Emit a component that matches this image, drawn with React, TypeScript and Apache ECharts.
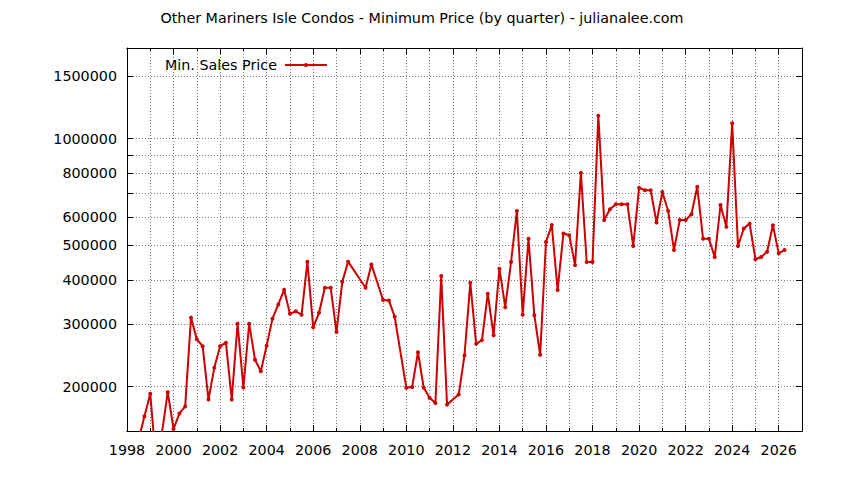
import React, { useEffect, useRef } from "react";
import * as echarts from "echarts";

const TITLE = "Other Mariners Isle Condos - Minimum Price (by quarter) - julianalee.com";
const SERIES_NAME = "Min. Sales Price";

const quarters = [
  1998.5, 1998.75, 1999.0, 1999.25, 1999.5, 1999.75,
  2000.0, 2000.25, 2000.5, 2000.75, 2001.0, 2001.25, 2001.5, 2001.75,
  2002.0, 2002.25, 2002.5, 2002.75, 2003.0, 2003.25, 2003.5, 2003.75,
  2004.0, 2004.25, 2004.5, 2004.75, 2005.0, 2005.25, 2005.5, 2005.75,
  2006.0, 2006.25, 2006.5, 2006.75, 2007.0, 2007.25, 2007.5,
  2008.25, 2008.5, 2009.0, 2009.25, 2009.5,
  2010.0, 2010.25, 2010.5, 2010.75, 2011.0, 2011.25, 2011.5, 2011.75,
  2012.25, 2012.5, 2012.75, 2013.0, 2013.25, 2013.5, 2013.75,
  2014.0, 2014.25, 2014.5, 2014.75, 2015.0, 2015.25, 2015.5, 2015.75,
  2016.0, 2016.25, 2016.5, 2016.75, 2017.0, 2017.25, 2017.5, 2017.75,
  2018.0, 2018.25, 2018.5, 2018.75, 2019.0, 2019.25, 2019.5, 2019.75,
  2020.0, 2020.25, 2020.5, 2020.75, 2021.0, 2021.25, 2021.5, 2021.75,
  2022.0, 2022.25, 2022.5, 2022.75, 2023.0, 2023.25, 2023.5, 2023.75,
  2024.0, 2024.25, 2024.5, 2024.75, 2025.0, 2025.25, 2025.5, 2025.75,
  2026.0, 2026.25,
];

const prices = [
  142000, 165000, 191000, 122000, 148000, 193000,
  152000, 168000, 176000, 313000, 272000, 260000, 184000, 226000,
  260000, 266000, 184000, 301000, 199000, 301000, 238000, 221000,
  261000, 311000, 341000, 375000, 321000, 326000, 319000, 450000,
  294000, 323000, 380000, 380000, 285000, 395000, 450000,
  380000, 442000, 351000, 350000, 315000,
  198500, 199500, 250000, 198500, 186000, 180000, 410000, 178000,
  190000, 245000, 392500, 264000, 270500, 365500, 279000,
  430000, 335000, 449000, 625000, 319000, 522000, 318000, 246000,
  511000, 571000, 374500, 540000, 534000, 440000, 800000, 449000,
  449000, 1159000, 590000, 632000, 653000, 653000, 653000, 498000,
  727000, 715000, 715000, 580000, 707000, 625000, 485500, 590000,
  590000, 612000, 732000, 522000, 522000, 464000, 650000, 564000,
  1104000, 498000, 558000, 576000, 457000, 464000, 480000, 570000,
  475000, 485500,
];

const yTickValues = [200000, 300000, 400000, 500000, 600000, 700000, 800000, 900000, 1000000, 1500000];
const yLabelValues = [200000, 300000, 400000, 500000, 600000, 800000, 1000000, 1500000];

const X_MIN = 1998;
const X_MAX = 2027;
const Y_MIN = 150000;
const Y_MAX = 1800000;

const FONT = "DejaVu Sans";
const FONT_SIZE = 14.3;
const RED = "#cc0000";
const GRID_LINE = { color: "#7a7a7a", type: [1, 2] as any, width: 1 };

export default function App() {
  const ref = useRef<HTMLDivElement>(null);

  useEffect(() => {
    document.body.style.margin = "0";
    if (!ref.current) return;
    const chart = echarts.init(ref.current, undefined, { renderer: "svg" });

    const xBase = (position: string, interval: number) => ({
      type: "value",
      min: X_MIN,
      max: X_MAX,
      interval,
      position,
      axisLine: { show: true, onZero: false, lineStyle: { color: "#000", width: 1 } },
      splitLine: { show: false },
      axisLabel: { show: false },
    });

    const yBase = (position: string) => ({
      type: "log",
      logBase: 10,
      min: Y_MIN,
      max: Y_MAX,
      position,
      axisLine: { show: true, onZero: false, lineStyle: { color: "#000", width: 1 } },
      axisTick: { show: true, inside: true, length: 6, customValues: yTickValues, lineStyle: { color: "#000" } },
      splitLine: { show: false },
      axisLabel: { show: false },
    });

    chart.setOption({
      animation: false,
      title: {
        text: TITLE,
        left: "center",
        top: 11,
        padding: 0,
        textStyle: { fontFamily: FONT, fontSize: FONT_SIZE, fontWeight: "normal", color: "#000" },
      },
      legend: {
        left: 165,
        top: 58,
        padding: 0,
        align: "right",
        itemWidth: 42,
        itemHeight: 5,
        data: [SERIES_NAME],
        textStyle: { fontFamily: FONT, fontSize: FONT_SIZE, color: "#000", padding: [0, 3, 0, 0] },
      },
      grid: { left: 127, right: 42, top: 48, bottom: 49, show: false },
      xAxis: [
        {
          ...xBase("bottom", 1),
          axisTick: { show: true, inside: true, length: 3, lineStyle: { color: "#000" } },
          splitLine: { show: true, lineStyle: GRID_LINE },
        },
        {
          ...xBase("bottom", 2),
          axisTick: { show: true, inside: true, length: 6, lineStyle: { color: "#000" } },
          axisLabel: {
            show: true,
            margin: 12,
            showMaxLabel: false,
            fontFamily: FONT,
            fontSize: FONT_SIZE,
            color: "#000",
            formatter: (v: number) => String(Math.round(v)),
          },
        },
        {
          ...xBase("top", 1),
          axisTick: { show: true, inside: true, length: 3, lineStyle: { color: "#000" } },
        },
        {
          ...xBase("top", 2),
          axisTick: { show: true, inside: true, length: 6, lineStyle: { color: "#000" } },
        },
      ],
      yAxis: [
        {
          ...yBase("left"),
          splitLine: { show: true, lineStyle: GRID_LINE },
          axisLabel: {
            show: true,
            customValues: yLabelValues,
            margin: 10,
            fontFamily: FONT,
            fontSize: FONT_SIZE,
            color: "#000",
            formatter: (v: number) => String(Math.round(v)),
          },
        },
        {
          ...yBase("right"),
        },
      ],
      series: [
        {
          name: SERIES_NAME,
          type: "line",
          xAxisIndex: 1,
          yAxisIndex: 0,
          data: quarters.map((q, i) => [q, prices[i]]),
          symbol: "circle",
          symbolSize: 4,
          showAllSymbol: true,
          clip: true,
          lineStyle: { color: RED, width: 2 },
          itemStyle: { color: RED },
        },
      ],
    });

    return () => chart.dispose();
  }, []);

  return <div ref={ref} style={{ width: 844, height: 480 }} />;
}
